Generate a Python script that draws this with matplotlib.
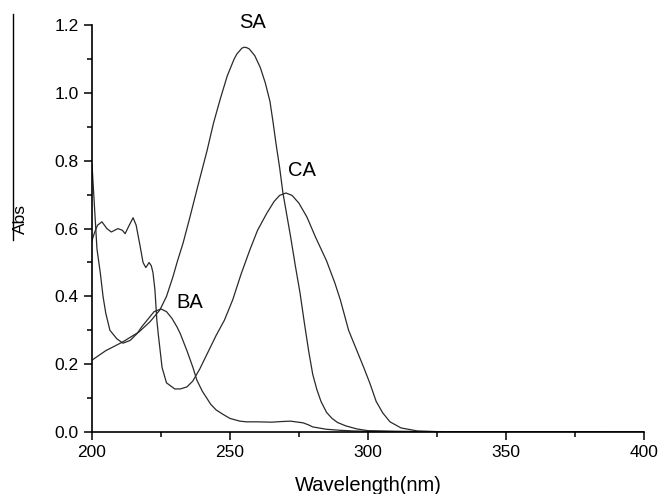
import numpy as np
import matplotlib.pyplot as plt
from matplotlib.lines import Line2D
from matplotlib.ticker import MultipleLocator

plt.rcParams['font.family'] = ['Liberation Sans', 'DejaVu Sans']

# absorbance spectra (wavelength nm, Abs)
sa_x = [200, 205, 211, 217, 221, 224.6, 227, 229.3, 231, 233, 235.5, 238.5, 241.7, 244, 246.4,
        249, 251.5, 252.5, 254.3, 255.1, 256, 257, 259, 261, 262.8, 264.5, 265.6, 266.7, 268,
        269.2, 270.6, 272, 273.7, 275.4, 277, 278.5, 280, 281.5, 283, 285, 287, 289, 292,
        296, 300, 310, 330, 400]
sa_y = [0.212, 0.24, 0.265, 0.295, 0.325, 0.36, 0.40, 0.457, 0.505, 0.557, 0.634, 0.73, 0.83, 0.91, 0.98,
        1.05, 1.10, 1.115, 1.132, 1.135, 1.134, 1.13, 1.11, 1.075, 1.03, 0.975, 0.915, 0.85, 0.78,
        0.705, 0.64, 0.575, 0.49, 0.41, 0.32, 0.24, 0.17, 0.125, 0.09, 0.058, 0.04, 0.028, 0.018,
        0.009, 0.004, 0.002, 0.001, 0.0]

ca_x = [200, 201, 202, 203.6, 205.4, 207, 209.4, 211, 212, 213.5, 214.9, 216, 217.4, 218.5,
        219.5, 220.7, 221.5, 222.1, 222.8, 223.5, 224, 225.4, 227, 230, 232, 234.4, 236.5, 239,
        242, 245, 248, 251, 254, 257.2, 260, 263.4, 266, 268, 270.3, 272.5, 275, 277.9, 281,
        285, 288, 290, 293, 296, 298.5, 300.7, 303, 305.4, 308, 312, 318, 325, 400]
ca_y = [0.565, 0.59, 0.61, 0.62, 0.60, 0.59, 0.60, 0.595, 0.585, 0.61, 0.632, 0.61, 0.55, 0.50,
        0.485, 0.50, 0.49, 0.47, 0.42, 0.33, 0.29, 0.19, 0.145, 0.127, 0.127, 0.133, 0.15, 0.185,
        0.235, 0.285, 0.33, 0.39, 0.465, 0.537, 0.595, 0.646, 0.68, 0.698, 0.705, 0.698, 0.675, 0.634, 0.575,
        0.505, 0.44, 0.39, 0.30, 0.24, 0.19, 0.144, 0.09, 0.056, 0.03, 0.012, 0.003, 0.001, 0.0]

ba_x = [200, 201, 201.8, 203, 204, 205, 206.5, 209, 211.2, 213.8, 216.3, 218, 220, 222.5,
        225, 227, 229, 230.8, 232, 234.4, 236.6, 238, 240, 241.6, 243, 245, 247.5, 250, 253.6,
        256, 260, 265, 269, 272, 276.5, 278.5, 280, 285, 290, 295, 300, 320, 400]
ba_y = [0.79, 0.65, 0.54, 0.47, 0.40, 0.35, 0.30, 0.275, 0.262, 0.27, 0.29, 0.31, 0.33, 0.355,
        0.363, 0.355, 0.335, 0.31, 0.29, 0.24, 0.19, 0.153, 0.12, 0.10, 0.082, 0.065, 0.052, 0.04, 0.032,
        0.03, 0.03, 0.029, 0.031, 0.032, 0.027, 0.021, 0.015, 0.008, 0.005, 0.003, 0.002, 0.001, 0.0]

labels = ['SA', 'CA', 'BA']
label_pos = [(258, 1.207), (276, 0.77), (235.5, 0.383)]

fig = plt.figure(figsize=(6.59, 4.94), dpi=100)
ax = fig.add_axes([0.1396, 0.1255, 0.8374, 0.8235])

for xs, ys in [(sa_x, sa_y), (ca_x, ca_y), (ba_x, ba_y)]:
    ax.plot(xs, ys, color='#2a2a2a', linewidth=0.9)

for lab, (lx, ly) in zip(labels, label_pos):
    ax.text(lx, ly, lab, fontsize=14.5, ha='center', va='center')

ax.set_xlim(200, 400)
ax.set_ylim(0, 1.2)
ax.xaxis.set_major_locator(MultipleLocator(50))
ax.xaxis.set_minor_locator(MultipleLocator(25))
ax.yaxis.set_major_locator(MultipleLocator(0.2))
ax.yaxis.set_minor_locator(MultipleLocator(0.1))
ax.yaxis.set_major_formatter(plt.FormatStrFormatter('%.1f'))
ax.tick_params(which='major', direction='out', length=6, width=1.1, labelsize=12.5)
ax.tick_params(which='minor', direction='out', length=3.5, width=1.1)
for s in ['top', 'right']:
    ax.spines[s].set_visible(False)
for s in ['left', 'bottom']:
    ax.spines[s].set_linewidth(1.2)

fig.text(368.5 / 659, 1 - 485 / 494, 'Wavelength(nm)', fontsize=14.5, ha='center', va='center')
fig.text(20.5 / 659, 1 - 219 / 494, 'Abs', fontsize=12.5, rotation=90, ha='center', va='center')
fig.add_artist(Line2D([13 / 659, 13 / 659], [1 - 14 / 494, 1 - 240 / 494],
                      transform=fig.transFigure, color='black', linewidth=1.0))

fig.savefig('out.png', dpi=100)
